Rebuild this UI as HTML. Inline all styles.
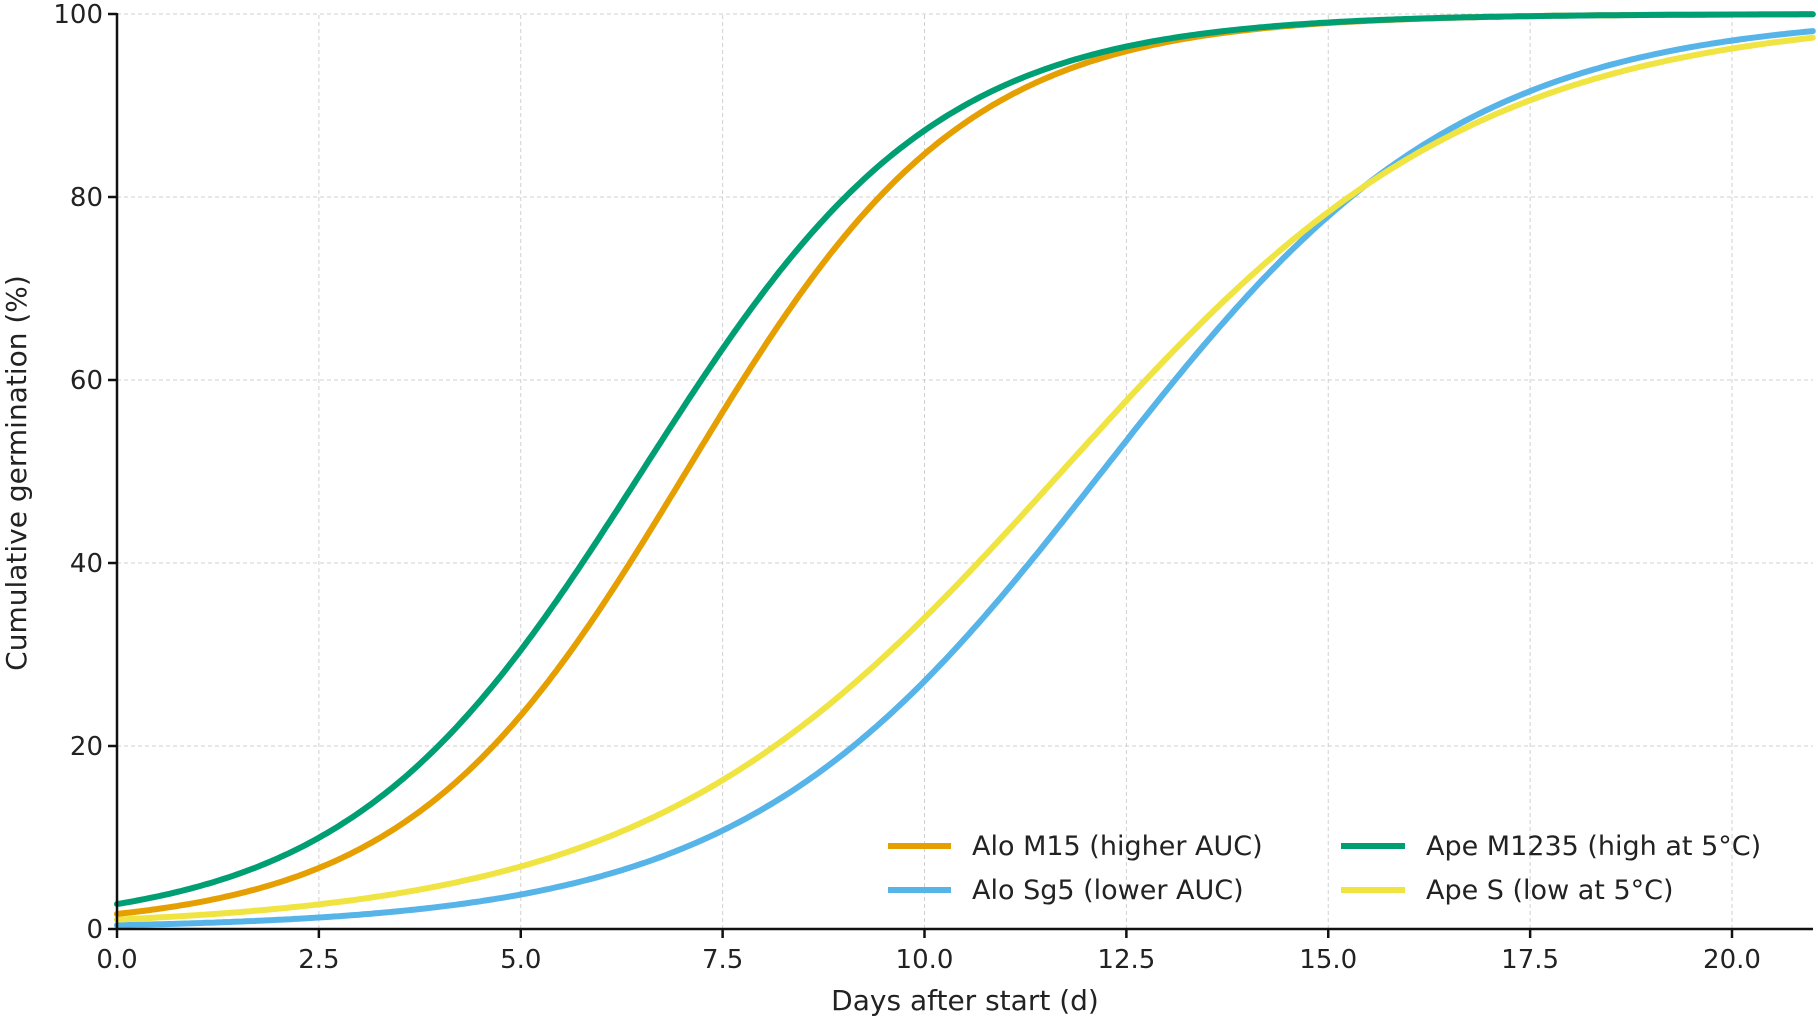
<!DOCTYPE html>
<html><head><meta charset="utf-8"><style>
html,body{margin:0;padding:0;background:#fff;}
svg{display:block;font-family:"DejaVu Sans","Liberation Sans",sans-serif;}
</style></head><body>
<svg id="s" width="1818" height="1023" viewBox="0 0 1818 1023" xmlns="http://www.w3.org/2000/svg">
<g id="grid" stroke="#d0d0d0" stroke-width="1" stroke-dasharray="4,3"></g>
<g id="curves" fill="none" stroke-width="6" stroke-linecap="round"></g>
<g id="axes" stroke="#111" stroke-width="2.5"></g>
<g id="labels" fill="#222" font-size="26"></g>
<text x="965" y="1010" font-size="28" fill="#222" text-anchor="middle">Days after start (d)</text>
<text transform="translate(26,473) rotate(-90)" font-size="28" fill="#222" text-anchor="middle">Cumulative germination (%)</text>
<g font-size="27" fill="#222">
<line x1="888" y1="846" x2="951" y2="846" stroke="#e69f00" stroke-width="6"/>
<text x="972" y="855">Alo M15 (higher AUC)</text>
<line x1="888" y1="890" x2="951" y2="890" stroke="#56b4e9" stroke-width="6"/>
<text x="972" y="899">Alo Sg5 (lower AUC)</text>
<line x1="1341" y1="846" x2="1405" y2="846" stroke="#009e73" stroke-width="6"/>
<text x="1426" y="855">Ape M1235 (high at 5°C)</text>
<line x1="1341" y1="890" x2="1405" y2="890" stroke="#f0e442" stroke-width="6"/>
<text x="1426" y="899">Ape S (low at 5°C)</text>
</g>
</svg>
<script>
var NS="http://www.w3.org/2000/svg";
var X0=117,XS=80.75,Y0=929,YS=9.15,XE=1813;
function X(v){return X0+v*XS;} function Y(v){return Y0-v*YS;}
function el(p,t,a){var e=document.createElementNS(NS,t);for(var k in a)e.setAttribute(k,a[k]);p.appendChild(e);return e;}
var g=document.getElementById('grid'),ax=document.getElementById('axes'),lb=document.getElementById('labels'),cv=document.getElementById('curves');
for(var i=0;i<=8;i++){var x=X(i*2.5);el(g,'line',{x1:x,y1:Y(0),x2:x,y2:Y(100)});el(ax,'line',{x1:x,y1:Y0,x2:x,y2:Y0+9});var t=el(lb,'text',{x:x,y:Y0+39,'text-anchor':'middle'});t.textContent=(i*2.5).toFixed(1);}
for(var j=0;j<=5;j++){var y=Y(j*20);el(g,'line',{x1:X0,y1:y,x2:XE,y2:y});el(ax,'line',{x1:X0-9,y1:y,x2:X0,y2:y});var t=el(lb,'text',{x:X0-14,y:y+9,'text-anchor':'end'});t.textContent=j*20;}
el(ax,'line',{x1:X0,y1:Y(100)-1,x2:X0,y2:Y0+1});el(ax,'line',{x1:X0-1,y1:Y0,x2:XE,y2:Y0});
var S=[['#56b4e9',12.2,0.45],['#f0e442',11.7,0.39],['#e69f00',7.05,0.58],['#009e73',6.5,0.55]];
S.forEach(function(s){var d='';for(var k=0;k<=420;k++){var v=k*21/420;var p=100/(1+Math.exp(-s[2]*(v-s[1])));d+=(k?'L':'M')+X(v).toFixed(1)+','+Y(p).toFixed(1);}el(cv,'path',{d:d,stroke:s[0]});});
</script>
</body></html>
